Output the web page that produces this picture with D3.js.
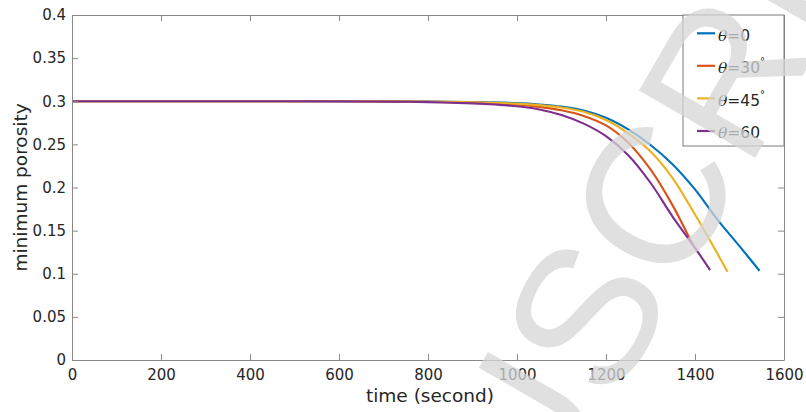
<!DOCTYPE html>
<html>
<head>
<meta charset="utf-8">
<script src="https://cdn.jsdelivr.net/npm/d3@7"></script>
<style>
  html, body { margin: 0; padding: 0; background: #fff; }
  svg { display: block; }
</style>
</head>
<body>
<svg id="chart" width="806" height="412"></svg>
<script>
// ---------- data ----------
const xTicks = [0, 200, 400, 600, 800, 1000, 1200, 1400, 1600];
const yTicks = [0, 0.05, 0.1, 0.15, 0.2, 0.25, 0.3, 0.35, 0.4];
const yTickLabels = ["0", "0.05", "0.1", "0.15", "0.2", "0.25", "0.3", "0.35", "0.4"];

const seriesNames = ["θ=0", "θ=30°", "θ=45°", "θ=60"];
const seriesColors = ["#0072BD", "#D95319", "#EDB120", "#7E2F8E"];

const time0  = [0, 200, 400, 600, 700, 800, 900, 1000, 1050, 1100, 1150, 1200, 1250, 1300, 1350, 1400, 1450, 1500, 1545];
const poro0  = [0.300, 0.300, 0.300, 0.300, 0.2999, 0.2996, 0.2990, 0.2978, 0.2963, 0.2938, 0.2893, 0.2808, 0.2673, 0.2493, 0.2268, 0.1978, 0.1630, 0.1320, 0.1035];

const time30 = [0, 200, 400, 600, 700, 800, 900, 1000, 1050, 1100, 1150, 1200, 1250, 1300, 1350, 1393];
const poro30 = [0.300, 0.300, 0.300, 0.300, 0.2998, 0.2994, 0.2985, 0.2962, 0.2935, 0.2895, 0.2830, 0.2720, 0.2520, 0.2210, 0.1790, 0.1355];

const time45 = [0, 200, 400, 600, 700, 800, 900, 1000, 1050, 1100, 1150, 1200, 1250, 1300, 1350, 1400, 1450, 1473];
const poro45 = [0.300, 0.300, 0.300, 0.300, 0.2999, 0.2995, 0.2988, 0.2972, 0.2955, 0.2927, 0.2877, 0.2782, 0.2627, 0.2417, 0.2107, 0.1687, 0.1237, 0.1024];

const time60 = [0, 200, 400, 600, 700, 800, 900, 950, 1000, 1050, 1100, 1150, 1200, 1250, 1300, 1350, 1400, 1434];
const poro60 = [0.300, 0.300, 0.300, 0.2999, 0.2996, 0.2990, 0.2975, 0.2962, 0.2942, 0.2905, 0.2840, 0.2740, 0.2595, 0.2375, 0.2055, 0.1660, 0.1300, 0.1043];

const watermarkText = "MANUSCRIPT";

// ---------- layout ----------
const W = 806, H = 412;
const M = { left: 72, right: 22, top: 15, bottom: 52 };
const svg = d3.select("#chart");

const x = d3.scaleLinear().domain([0, 1600]).range([M.left, W - M.right]);
const y = d3.scaleLinear().domain([0, 0.4]).range([H - M.bottom, M.top]);

const axisColor = "#8a8a8a";
const textColor = "#262626";
const tickFont = "DejaVu Sans, sans-serif";

// ---------- series ----------
const series = [
  { t: time0,  v: poro0 },
  { t: time30, v: poro30 },
  { t: time45, v: poro45 },
  { t: time60, v: poro60 }
];

const line = d3.line()
  .x(d => x(d[0]))
  .y(d => y(d[1]))
  .curve(d3.curveCatmullRom.alpha(0.5));

const plot = svg.append("g");
series.forEach((s, i) => {
  const pts = s.t.map((t, k) => [t, s.v[k]]);
  plot.append("path")
    .datum(pts)
    .attr("fill", "none")
    .attr("stroke", seriesColors[i])
    .attr("stroke-width", 2.1)
    .attr("stroke-linejoin", "round")
    .attr("d", line);
});

// ---------- axes (MATLAB style box, ticks inside) ----------
function styleAxis(g) {
  g.select(".domain").attr("stroke", axisColor);
  g.selectAll(".tick line").attr("stroke", axisColor);
  g.selectAll(".tick text").attr("fill", textColor).attr("font-family", tickFont).attr("font-size", 15);
}

svg.append("g")
  .attr("transform", `translate(0,${H - M.bottom})`)
  .call(d3.axisBottom(x).tickValues(xTicks).tickFormat(d3.format("d")).tickSizeInner(-6).tickSizeOuter(0).tickPadding(9))
  .call(styleAxis);

svg.append("g")
  .attr("transform", `translate(0,${M.top})`)
  .call(d3.axisTop(x).tickValues(xTicks).tickFormat("").tickSizeInner(-6).tickSizeOuter(0))
  .call(styleAxis);

svg.append("g")
  .attr("transform", `translate(${M.left},0)`)
  .call(d3.axisLeft(y).tickValues(yTicks).tickFormat((d, i) => yTickLabels[i]).tickSizeInner(-6).tickSizeOuter(0).tickPadding(6))
  .call(styleAxis);

svg.append("g")
  .attr("transform", `translate(${W - M.right},0)`)
  .call(d3.axisRight(y).tickValues(yTicks).tickFormat("").tickSizeInner(-6).tickSizeOuter(0))
  .call(styleAxis);

svg.selectAll(".domain").attr("stroke-width", 1);

// axis titles
svg.append("text")
  .attr("x", (x.range()[0] + x.range()[1]) / 2 + 2)
  .attr("y", 402)
  .attr("text-anchor", "middle")
  .attr("font-family", tickFont)
  .attr("font-size", 18.5)
  .attr("fill", textColor)
  .text("time (second)");

svg.append("text")
  .attr("transform", `translate(27,${(y.range()[0] + y.range()[1]) / 2}) rotate(-90)`)
  .attr("text-anchor", "middle")
  .attr("font-family", tickFont)
  .attr("font-size", 18.5)
  .attr("fill", textColor)
  .text("minimum porosity");

// ---------- legend ----------
const lg = svg.append("g");
const lgX = 683, lgY = M.top, lgW = (W - M.right) - 683, lgH = 131;
lg.append("rect")
  .attr("x", lgX).attr("y", lgY).attr("width", lgW).attr("height", lgH)
  .attr("fill", "#fff").attr("stroke", "#7a7a7a").attr("stroke-width", 1);

const rowY = [33.3, 65.8, 98.4, 131];
seriesNames.forEach((name, i) => {
  const yy = rowY[i];
  lg.append("line")
    .attr("x1", 697).attr("x2", 715).attr("y1", yy).attr("y2", yy)
    .attr("stroke", seriesColors[i]).attr("stroke-width", 2.2);
  const t = lg.append("text")
    .attr("x", 718).attr("y", yy + 7.4)
    .attr("font-family", tickFont)
    .attr("font-size", 15.5)
    .attr("fill", textColor);
  const rest = name.slice(1);
  t.append("tspan").attr("font-family", "DejaVu Serif, serif").attr("font-style", "italic").text(name[0]);
  const deg = rest.endsWith("°");
  t.append("tspan").text(deg ? rest.slice(0, -1) : rest);
  if (deg) {
    t.append("tspan").attr("font-size", 10).attr("dy", -8).text("°");
  }
});

// ---------- watermark ----------
svg.append("text")
  .attr("transform", "translate(647,345) rotate(-60)")
  .attr("text-anchor", "middle")
  .attr("font-family", "Liberation Sans, Arial, sans-serif")
  .attr("font-size", 195)
  .attr("fill", "#d6d6d6")
  .attr("opacity", 0.75)
  .text(watermarkText);
</script>
</body>
</html>
